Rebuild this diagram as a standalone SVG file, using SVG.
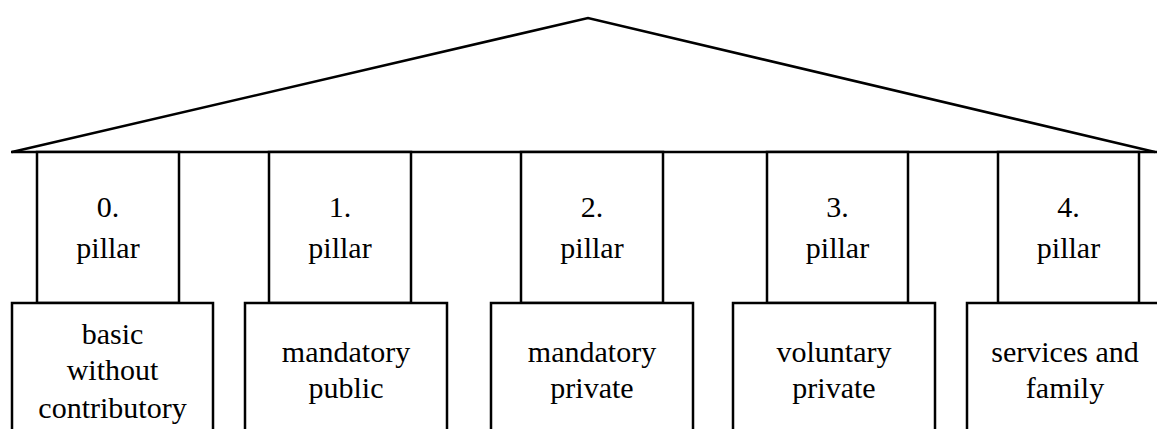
<svg xmlns="http://www.w3.org/2000/svg" width="1157" height="429" viewBox="0 0 1157 429">
  <style>
    .edge { fill: none; stroke: #000; stroke-width: 2.5; stroke-linejoin: miter; }
    .box { fill: #fff; stroke: #000; stroke-width: 2.5; }
    .lbl { font-family: "Liberation Serif", "Noto Serif", "DejaVu Serif", FreeSerif, Tinos, Times, "Times New Roman", serif; font-size: 30px; fill: #000; text-anchor: middle; }
  </style>
  <rect width="1157" height="429" fill="#fff"/>

  <!-- roof and beam -->
  <g id="connectors">
    <polyline class="edge" points="12,152 588,18 1155,152"/>
    <line class="edge" x1="11" y1="152" x2="1157" y2="152"/>
  </g>

  <!-- pillars -->
  <g id="pillar0">
    <rect class="box" x="37" y="152" width="142" height="151"/>
    <text class="lbl" x="108" y="217">0.</text>
    <text class="lbl" x="108" y="258">pillar</text>
  </g>
  <g id="pillar1">
    <rect class="box" x="269" y="152" width="142" height="151"/>
    <text class="lbl" x="340" y="217">1.</text>
    <text class="lbl" x="340" y="258">pillar</text>
  </g>
  <g id="pillar2">
    <rect class="box" x="521" y="152" width="142" height="151"/>
    <text class="lbl" x="592" y="217">2.</text>
    <text class="lbl" x="592" y="258">pillar</text>
  </g>
  <g id="pillar3">
    <rect class="box" x="767" y="152" width="141" height="151"/>
    <text class="lbl" x="837.5" y="217">3.</text>
    <text class="lbl" x="837.5" y="258">pillar</text>
  </g>
  <g id="pillar4">
    <rect class="box" x="998" y="152" width="141" height="151"/>
    <text class="lbl" x="1068.5" y="217">4.</text>
    <text class="lbl" x="1068.5" y="258">pillar</text>
  </g>

  <!-- foundations -->
  <g id="base0">
    <rect class="box" x="12" y="303" width="201" height="140"/>
    <text class="lbl" x="112.5" y="344">basic</text>
    <text class="lbl" x="112.5" y="380">without</text>
    <text class="lbl" x="112.5" y="418">contributory</text>
  </g>
  <g id="base1">
    <rect class="box" x="245" y="303" width="202" height="140"/>
    <text class="lbl" x="346" y="362">mandatory</text>
    <text class="lbl" x="346" y="398">public</text>
  </g>
  <g id="base2">
    <rect class="box" x="491" y="303" width="202" height="140"/>
    <text class="lbl" x="592" y="362">mandatory</text>
    <text class="lbl" x="592" y="398">private</text>
  </g>
  <g id="base3">
    <rect class="box" x="733" y="303" width="202" height="140"/>
    <text class="lbl" x="834" y="362">voluntary</text>
    <text class="lbl" x="834" y="398">private</text>
  </g>
  <g id="base4">
    <rect class="box" x="967" y="303" width="202" height="140"/>
    <text class="lbl" x="1065" y="362">services and</text>
    <text class="lbl" x="1065" y="398">family</text>
  </g>
</svg>
